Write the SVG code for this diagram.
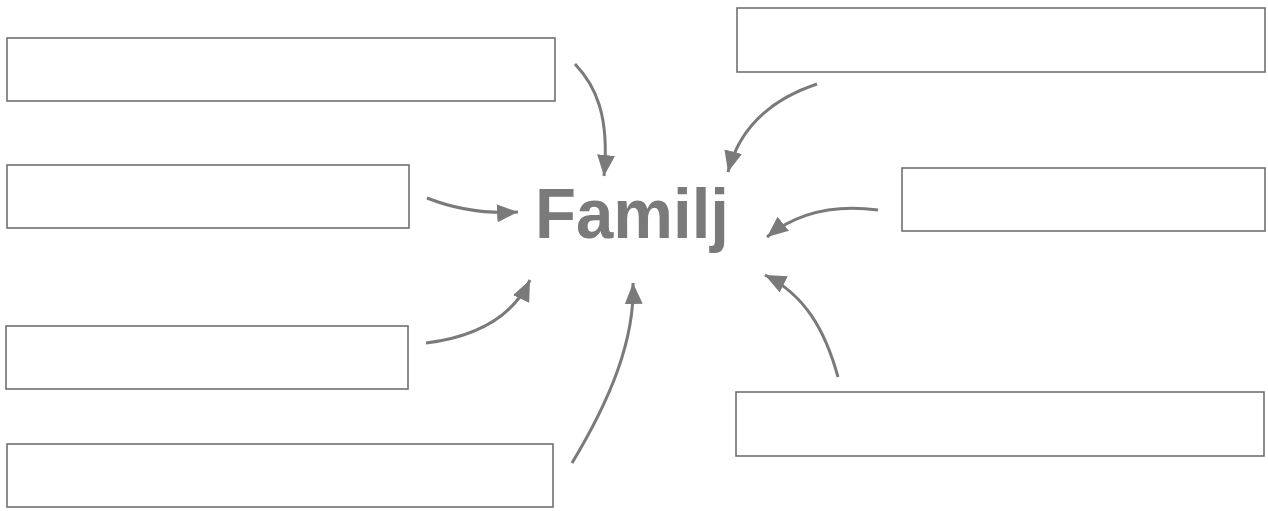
<svg xmlns="http://www.w3.org/2000/svg" width="1268" height="511" viewBox="0 0 1268 511">
<style>
.box{fill:#fff;stroke:#707070;stroke-width:1.6}
.arr{fill:none;stroke:#7a7a7a;stroke-width:3;marker-end:url(#ah)}
.title{font-family:"Liberation Sans",Arial,sans-serif;font-weight:bold;font-size:70px;fill:#7a7a7a}
</style>
<defs>
<marker id="ah" markerUnits="userSpaceOnUse" markerWidth="24" markerHeight="22" viewBox="0 0 24 22" refX="21" refY="11" orient="auto">
<path d="M0,2 L21,11 L0,20 Z" fill="#7a7a7a"/>
</marker>
</defs>
<rect width="1268" height="511" fill="#fff"/>
<g id="box-l1"><rect class="box" x="7" y="38" width="548" height="63"/></g>
<g id="box-l2"><rect class="box" x="7" y="165" width="402" height="63"/></g>
<g id="box-l3"><rect class="box" x="6" y="326" width="402" height="63"/></g>
<g id="box-l4"><rect class="box" x="7" y="444" width="546" height="63"/></g>
<g id="box-r1"><rect class="box" x="737" y="8" width="528" height="64"/></g>
<g id="box-r2"><rect class="box" x="902" y="168" width="363" height="63"/></g>
<g id="box-r3"><rect class="box" x="736" y="392" width="528" height="64"/></g>
<g id="center"><text class="title" x="535" y="238" textLength="194" lengthAdjust="spacingAndGlyphs">Familj</text></g>
<g id="connectors">
<path class="arr" d="M575,64 C595,85 610,115 604,176"/>
<path class="arr" d="M817,84 C775,98 740,125 728,172"/>
<path class="arr" d="M427,198 Q470,215 518,212"/>
<path class="arr" d="M878,210 C840,205 800,210 767,237"/>
<path class="arr" d="M426,343 Q505,333 530,280"/>
<path class="arr" d="M572,463 C610,400 635,340 633,283"/>
<path class="arr" d="M838,377 C825,330 805,295 765,275"/>
</g>
</svg>
